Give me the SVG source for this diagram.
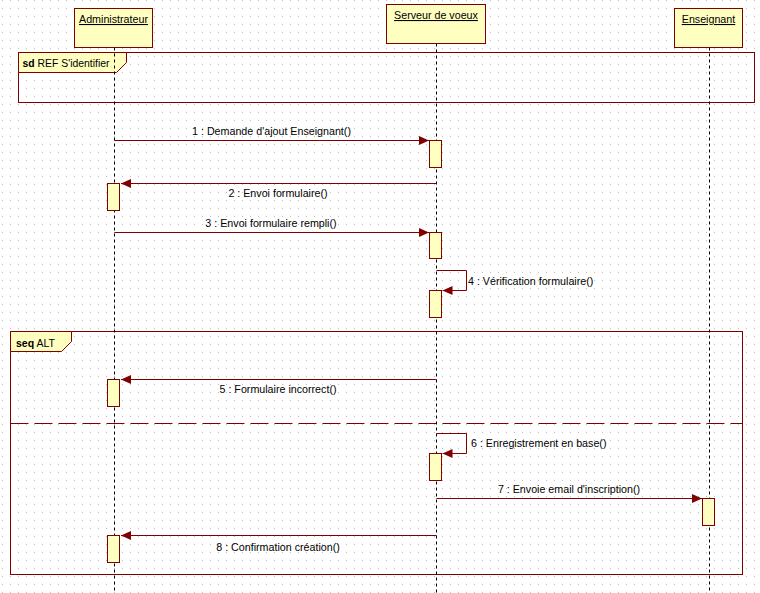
<svg xmlns="http://www.w3.org/2000/svg" width="760" height="593" viewBox="0 0 760 593">
<defs>
<pattern id="grid" width="8" height="8" patternUnits="userSpaceOnUse">
<rect x="2" y="0" width="1" height="1" fill="#bcbcbc"/>
</pattern>
<marker id="arr" markerUnits="userSpaceOnUse" markerWidth="11" markerHeight="9" refX="10" refY="4.5" orient="auto">
<path d="M0,0 L10,4.5 L0,9 z" fill="#800000"/>
</marker>
<style>
text{font-family:"Liberation Sans",Arial,sans-serif;font-size:10.7px;fill:#000}
.head{fill:#ffffc0;stroke:#800000;stroke-width:1}
.life{stroke:#000;stroke-width:1;stroke-dasharray:3,3;fill:none}
.act{fill:#ffffc0;stroke:#800000;stroke-width:1}
.msg{stroke:#800000;stroke-width:1;fill:none;marker-end:url(#arr)}
.frame{fill:none;stroke:#800000;stroke-width:1}
.tab{fill:#ffffc0;stroke:#800000;stroke-width:1}
.u{text-decoration:underline}
.c{text-anchor:middle}
.b{font-weight:bold}
</style>
</defs>
<rect width="760" height="593" fill="#ffffff"/>
<rect width="760" height="593" fill="url(#grid)"/>

<g id="frame-sd">
<rect class="frame" x="18.5" y="52.5" width="736" height="50"/>
<polygon class="tab" points="18.5,52.5 126.5,52.5 126.5,62.5 116.5,72.5 18.5,72.5"/>
<text x="22.5" y="67" textLength="87" lengthAdjust="spacingAndGlyphs"><tspan class="b">sd</tspan> REF S'identifier</text>
</g>

<g id="frame-seq">
<rect class="frame" x="10.5" y="331.5" width="732" height="243"/>
<polygon class="tab" points="10.5,331.5 71.5,331.5 71.5,341.5 61.5,351.5 10.5,351.5"/>
<text x="16" y="347" textLength="39" lengthAdjust="spacingAndGlyphs"><tspan class="b">seq</tspan> ALT</text>
<line x1="10.5" y1="423.5" x2="742.5" y2="423.5" stroke="#800000" stroke-width="1" stroke-dasharray="18,6"/>
</g>

<g id="administrateur">
<line class="life" x1="114.5" y1="47.5" x2="114.5" y2="593"/>
<rect class="head" x="74.5" y="8.5" width="78" height="39"/>
<text class="c u" x="113.5" y="23">Administrateur</text>
<rect class="act" x="107.5" y="183.5" width="12" height="27"/>
<rect class="act" x="107.5" y="379.5" width="12" height="27"/>
<rect class="act" x="107.5" y="535.5" width="12" height="27"/>
</g>

<g id="serveur">
<line class="life" x1="436.5" y1="43.5" x2="436.5" y2="593"/>
<rect class="head" x="386.5" y="4.5" width="99" height="39"/>
<text class="c u" x="436" y="19">Serveur de voeux</text>
<rect class="act" x="429.5" y="140.5" width="12" height="27"/>
<rect class="act" x="429.5" y="232.5" width="12" height="26"/>
<rect class="act" x="429.5" y="290.5" width="12" height="27"/>
<rect class="act" x="429.5" y="453.5" width="12" height="27"/>
</g>

<g id="enseignant">
<line class="life" x1="709.5" y1="47.5" x2="709.5" y2="593"/>
<rect class="head" x="674.5" y="8.5" width="68" height="39"/>
<text class="c u" x="708.5" y="23">Enseignant</text>
<rect class="act" x="702.5" y="498.5" width="12" height="27"/>
</g>

<g id="connectors">
<line class="msg" x1="114.5" y1="140.5" x2="429" y2="140.5"/>
<text class="c" x="271.5" y="135">1 : Demande d'ajout Enseignant()</text>
<line class="msg" x1="436.5" y1="183.5" x2="121" y2="183.5"/>
<text class="c" x="278" y="197">2 : Envoi formulaire()</text>
<line class="msg" x1="114.5" y1="232.5" x2="429" y2="232.5"/>
<text class="c" x="271" y="227">3 : Envoi formulaire rempli()</text>
<path class="msg" d="M436.5,270.5 H466.5 V290.5 H442.5"/>
<text x="468" y="285">4 : Vérification formulaire()</text>
<line class="msg" x1="436.5" y1="379.5" x2="121" y2="379.5"/>
<text class="c" x="278" y="393">5 : Formulaire incorrect()</text>
<path class="msg" d="M436.5,433.5 H466.5 V453.5 H442.5"/>
<text x="471" y="447">6 : Enregistrement en base()</text>
<line class="msg" x1="436.5" y1="498.5" x2="702" y2="498.5"/>
<text class="c" x="569" y="493">7 : Envoie email d'inscription()</text>
<line class="msg" x1="436.5" y1="535.5" x2="121" y2="535.5"/>
<text class="c" x="278" y="551">8 : Confirmation création()</text>
</g>
</svg>
